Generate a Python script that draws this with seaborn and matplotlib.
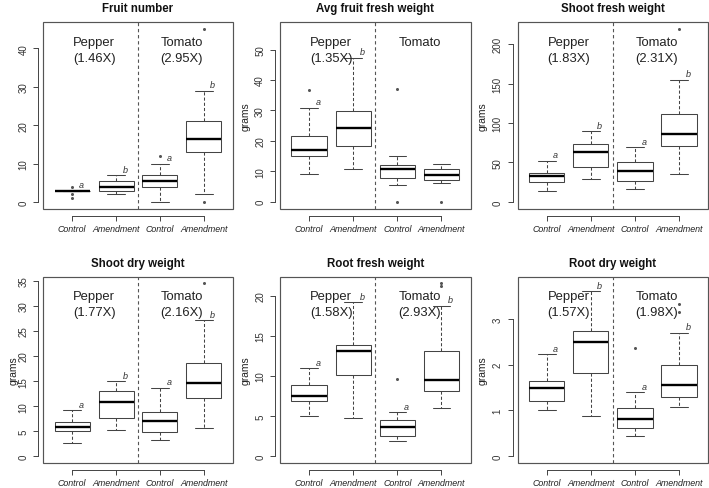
import matplotlib
matplotlib.use("Agg")
import matplotlib.pyplot as plt
from matplotlib.patches import Rectangle
import numpy as np
import pandas as pd
import seaborn as sns

# ---------------- data ----------------
groups = ["Pepper Control", "Pepper Amendment", "Tomato Control", "Tomato Amendment"]
group_labels = ["Control", "Amendment", "Control", "Amendment"]
crops = ["Pepper", "Tomato"]

titles = ["Fruit number", "Avg fruit fresh weight", "Shoot fresh weight",
          "Shoot dry weight", "Root fresh weight", "Root dry weight"]
ylabels = ["", "grams", "grams", "grams", "grams", "grams"]

# five-number summaries: [lower whisker, Q1, median, Q3, upper whisker]
fruit_number_stats = [[3, 3, 3, 3, 3], [2, 3, 4, 5.4, 7],
                      [0, 4, 5.5, 7, 10], [2, 13, 16.4, 21, 29]]
fruit_number_outliers = [[4, 2, 1], [], [12], [45, 0]]

avg_fruit_stats = [[9.0, 15.1, 17.0, 21.5, 30.9], [10.6, 18.3, 24.4, 29.9, 47.4],
                   [5.4, 7.9, 10.6, 12.2, 14.9], [6.1, 7.2, 8.7, 10.6, 12.3]]
avg_fruit_outliers = [[36.6], [], [37.2, 0], [0]]

shoot_fresh_stats = [[13.5, 25.7, 32.5, 37.1, 51.9], [29.5, 43.9, 62.9, 73.8, 89.5],
                     [16.5, 26.6, 38.8, 51.0, 69.2], [35.0, 71.3, 85.7, 111.4, 154.8]]
shoot_fresh_outliers = [[], [], [], [219]]

shoot_dry_stats = [[2.7, 5.0, 5.9, 6.9, 9.25], [5.2, 7.66, 10.8, 13.0, 15.0],
                   [3.2, 4.95, 7.1, 8.85, 13.7], [5.6, 11.6, 14.7, 18.7, 27.1]]
shoot_dry_outliers = [[], [], [], [34.5]]

root_fresh_stats = [[4.98, 6.9, 7.5, 8.88, 10.96], [4.73, 10.2, 13.1, 13.9, 19.2],
                    [1.95, 2.5, 3.7, 4.5, 5.5], [6.0, 8.1, 9.5, 13.15, 18.8]]
root_fresh_outliers = [[], [], [9.6], [21.6, 21.3]]

root_dry_stats = [[1.0, 1.2, 1.48, 1.64, 2.23], [0.88, 1.81, 2.5, 2.73, 3.6],
                  [0.43, 0.61, 0.82, 1.05, 1.4], [1.08, 1.3, 1.56, 2.0, 2.7]]
root_dry_outliers = [[], [], [2.36], [3.33, 3.15]]

all_stats = [fruit_number_stats, avg_fruit_stats, shoot_fresh_stats,
             shoot_dry_stats, root_fresh_stats, root_dry_stats]
all_outliers = [fruit_number_outliers, avg_fruit_outliers, shoot_fresh_outliers,
                shoot_dry_outliers, root_fresh_outliers, root_dry_outliers]

letters = [["a", "b", "a", "b"], ["a", "b", "", ""], ["a", "b", "a", "b"],
           ["a", "b", "a", "b"], ["a", "b", "a", "b"], ["a", "b", "a", "b"]]
folds = [["1.46X", "2.95X"], ["1.35X", None], ["1.83X", "2.31X"],
         ["1.77X", "2.16X"], ["1.58X", "2.93X"], ["1.57X", "1.98X"]]

ylims = [(-1.8, 46.8), (-2.4, 59.0), (-9.0, 227.6),
         (-1.3, 35.8), (-0.85, 22.4), (-0.15, 3.92)]
yticks = [[0, 10, 20, 30, 40], [0, 10, 20, 30, 40, 50], [0, 50, 100, 150, 200],
          [0, 5, 10, 15, 20, 25, 30, 35], [0, 5, 10, 15, 20], [0, 1, 2, 3]]

# ---------------- style ----------------
sns.set_style("white")
plt.rcParams["font.family"] = ["Liberation Sans", "DejaVu Sans"]

W, H = 709, 489
fig = plt.figure(figsize=(W / 100, H / 100), dpi=100)

col_left = [43.3, 280.0, 517.6]
col_width = [189.4, 190.6, 190.5]
row_top = [23.3, 277.8]
row_bottom = [210.0, 464.0]

LINE = "#444444"

for k in range(6):
    r, c = divmod(k, 3)
    l, w = col_left[c], col_width[c]
    t, b = row_top[r], row_bottom[r]
    ax = fig.add_axes([l / W, 1 - b / H, w / W, (b - t) / H])

    stats = all_stats[k]
    rows = [(g, v) for g, s in zip(groups, stats) for v in s]
    df = pd.DataFrame(rows, columns=["group", "value"])
    sns.boxplot(data=df, x="group", y="value", order=groups, whis=(0, 100),
                showfliers=False, width=0.8, color="white", linecolor=LINE,
                linewidth=0.75,
                medianprops=dict(color="black", linewidth=1.7),
                whiskerprops=dict(linestyle=(0, (3, 2))),
                ax=ax)

    out_rows = [(g, v) for g, o in zip(groups, all_outliers[k]) for v in o]
    if out_rows:
        odf = pd.DataFrame(out_rows, columns=["group", "value"])
        sns.stripplot(data=odf, x="group", y="value", order=groups, jitter=False,
                      size=2.2, color="#555555", ax=ax, zorder=4)

    ax.set_xlim(-0.66, 3.66)
    ax.set_ylim(*ylims[k])
    ax.axvline(1.5, color="#555555", lw=0.8, ls=(0, (3, 2.5)), zorder=1)

    # frame
    ax.add_patch(Rectangle((0, 0), 1, 1, transform=ax.transAxes, fill=False,
                           lw=0.85, ec="#555555", clip_on=False, zorder=6))
    for s in ["top", "right"]:
        ax.spines[s].set_visible(False)
    for s in ["left", "bottom"]:
        ax.spines[s].set_color(LINE)
        ax.spines[s].set_linewidth(0.7)
    ax.spines["left"].set_position(("outward", 3.6))
    ax.spines["left"].set_bounds(yticks[k][0], yticks[k][-1])
    ax.spines["bottom"].set_position(("outward", 5))
    ax.spines["bottom"].set_bounds(0, 3)

    ax.set_yticks(yticks[k])
    ax.set_yticklabels([str(v) for v in yticks[k]])
    ax.set_xticks(range(4))
    ax.set_xticklabels(group_labels, fontstyle="italic")
    ax.tick_params(axis="y", direction="out", length=3.6, width=0.7, color=LINE,
                   labelsize=7.0, labelcolor="#333333", pad=3.5, labelrotation=90,
                   left=True)
    ax.tick_params(axis="x", direction="out", length=3.6, width=0.7, color=LINE,
                   labelsize=6.4, labelcolor="#222222", pad=2.5, bottom=True)
    for lab in ax.get_yticklabels():
        lab.set_va("center")

    ax.set_xlabel("")
    if ylabels[k]:
        ax.set_ylabel(ylabels[k], size=7.4, color="#222222")
        ax.yaxis.set_label_coords((-25 if k == 3 else -29.5) / w, 0.5)
    else:
        ax.set_ylabel("")

    # title
    ax.text(0.5, 1 + 14 / (b - t), titles[k], transform=ax.transAxes,
            ha="center", va="center", fontweight="bold", size=8.3, color="#111111")

    # crop labels and fold change
    tr = ax.get_xaxis_transform()
    for j, crop in enumerate(crops):
        xpos = 0.5 + 2 * j
        ax.text(xpos, 0.895, crop, transform=tr, ha="center", va="center",
                size=9.4, color="#222222")
        if folds[k][j]:
            ax.text(xpos, 0.81, "(" + folds[k][j] + ")", transform=tr,
                    ha="center", va="center", size=9.4, color="#222222")

    # significance letters
    for i, letter in enumerate(letters[k]):
        if letter:
            ax.annotate(letter, (i, stats[i][4]), xytext=(6.5, 4.3),
                        textcoords="offset points", ha="center", va="center",
                        fontstyle="italic", size=6.5, color="#333333")

fig.savefig("out.png", dpi=100)
